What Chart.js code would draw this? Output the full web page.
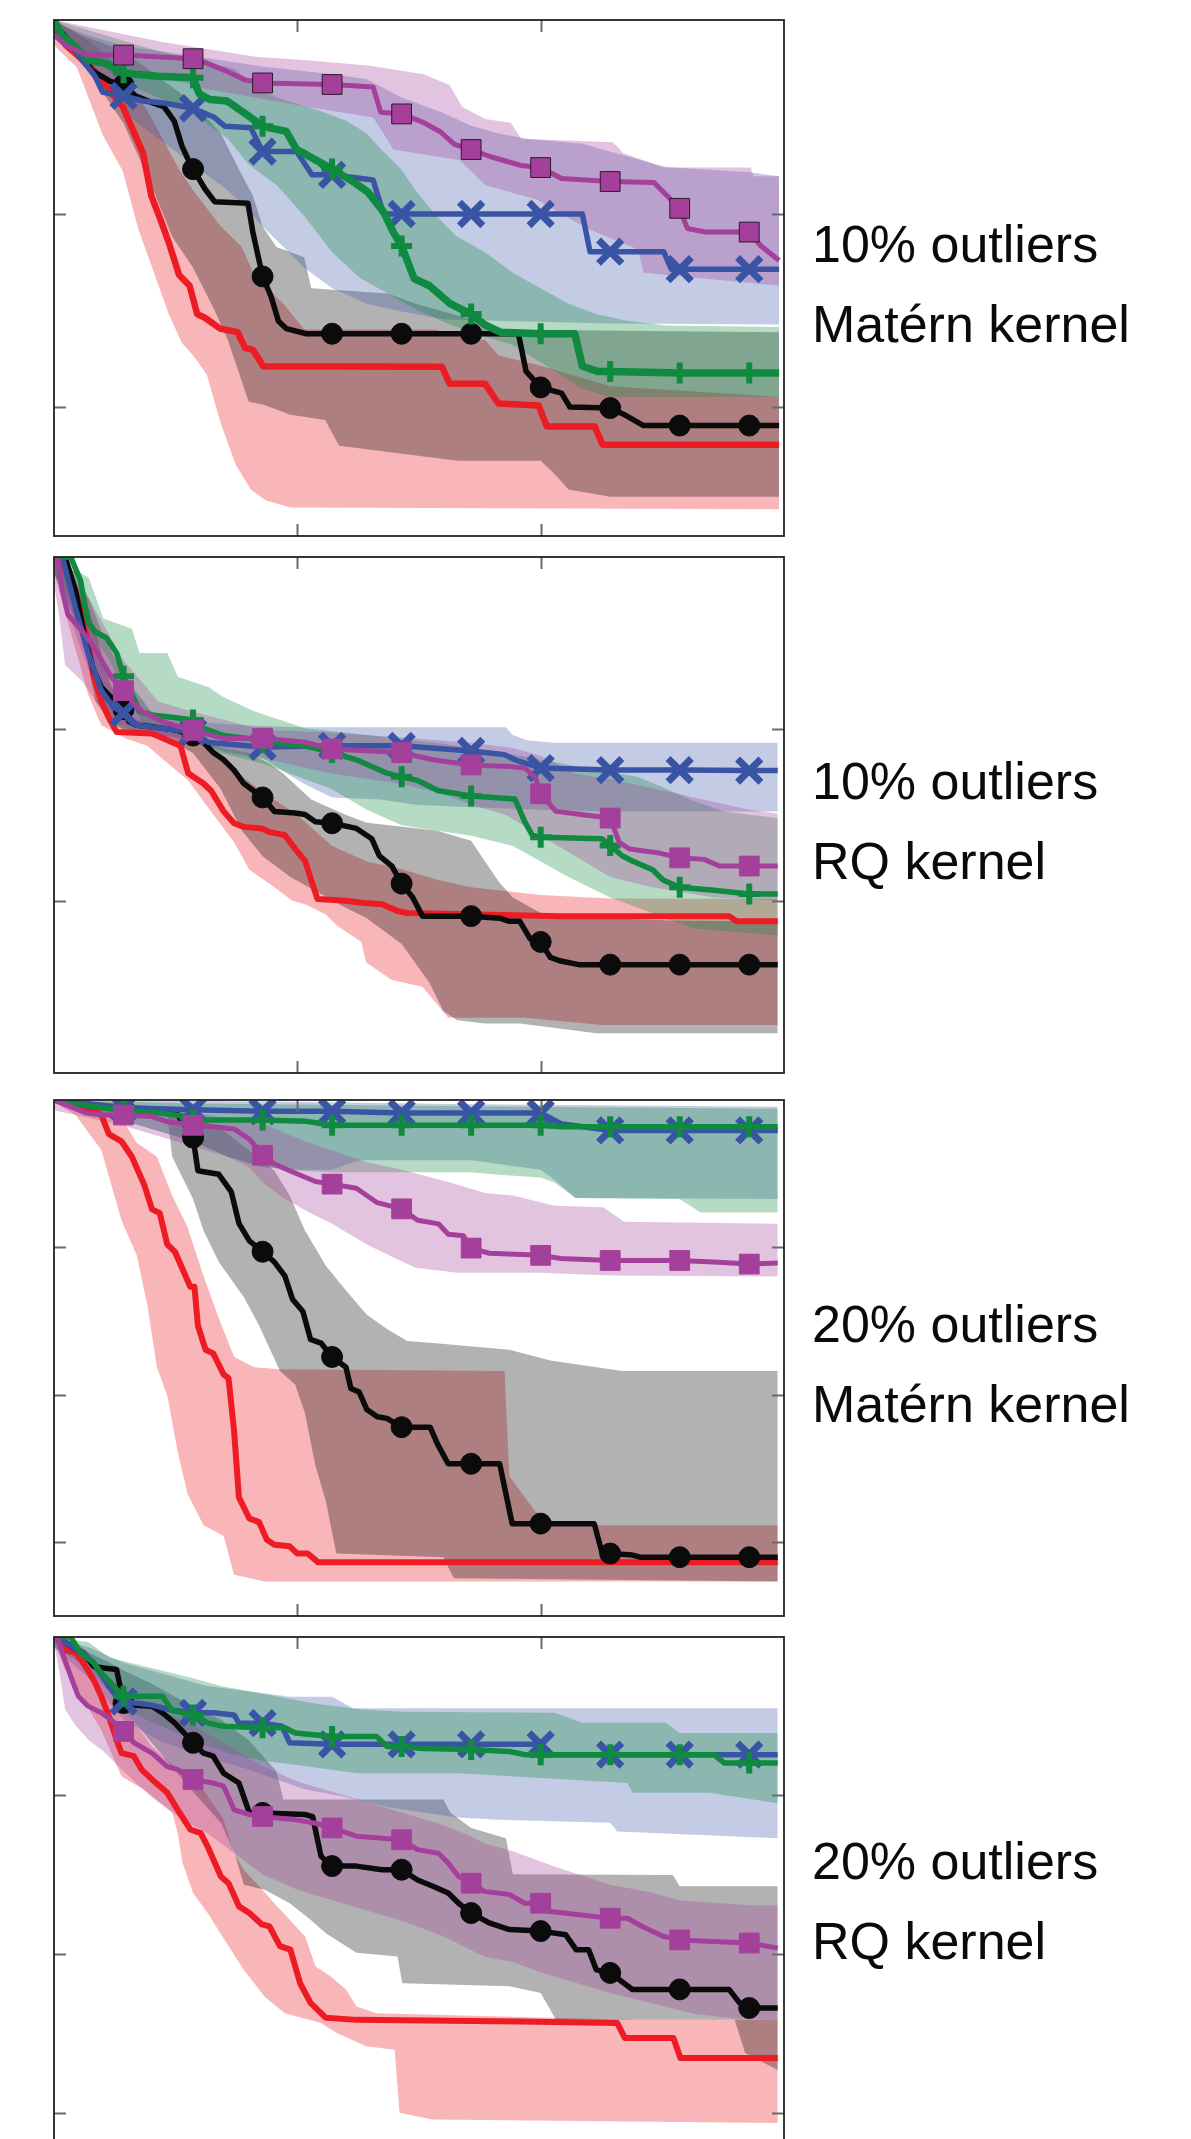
<!DOCTYPE html>
<html>
<head>
<meta charset="utf-8">
<script src="https://cdn.jsdelivr.net/npm/chart.js@4.4.1/dist/chart.umd.min.js"></script>
<style>
  body { margin: 0; background: #fff; width: 1191px; height: 2139px; position: relative; overflow: hidden; }
  canvas { position: absolute; left: 50px; }
  .label { position: absolute; left: 812px; font-family: "Liberation Sans", Arial, sans-serif; font-size: 52px; line-height: 80px; color: #0a0a0a; white-space: nowrap; }
</style>
</head>
<body>
<canvas id="c1" width="738" height="524" style="top:16px"></canvas>
<canvas id="c2" width="738" height="524" style="top:553px"></canvas>
<canvas id="c3" width="738" height="524" style="top:1096px"></canvas>
<canvas id="c4" width="738" height="524" style="top:1633px"></canvas>
<div class="label" style="top:204px">10% outliers<br>Matérn kernel</div>
<div class="label" style="top:741px">10% outliers<br>RQ kernel</div>
<div class="label" style="top:1284px">20% outliers<br>Matérn kernel</div>
<div class="label" style="top:1821px">20% outliers<br>RQ kernel</div>
<script>
// axes: x runs 0..105 (markers every 10), y is 0..100 from bottom of each panel
const xTicks = [35, 70];
const markerXs = [10, 20, 30, 40, 50, 60, 70, 80, 90, 100];
const p1YTicks = [25, 62.5];
const p2YTicks = [33.33, 66.67];
const p3YTicks = [14.29, 42.86, 71.43];
const p4YTicks = [7.7, 38.5, 69.3];

// ---- panel 1: 10% outliers, Matern ----
const p1RedLine = [[0,98],[1.8,95],[5.1,91.2],[7,88.1],[9.9,83.2],[12.8,74.2],[14,65.9],[15.4,61],[16.5,56.9],[18,50.6],[19.5,48.5],[20.6,43],[21.7,42.3],[23.9,40.2],[26.4,39.5],[27.5,36.4],[28.6,36.1],[30.1,32.9],[55.8,32.8],[56.9,29.5],[62,29.5],[63.9,25.7],[69.7,25.3],[70.9,21.2],[77.8,21.2],[78.9,17.7],[104.3,17.7]];
const p1RedHi = [[0,100],[5,96],[10,90],[14,81],[18,71],[20,67],[24,60],[27,56],[29,50],[33,45],[36,40],[55,40],[57,39],[62,38],[64,35],[70,33],[80,29],[104.3,27]];
const p1RedLo = [[0,95.1],[3.3,90.8],[7,77.7],[9.9,70.7],[12.1,59.6],[14.3,51.3],[16.5,43],[18.4,37.4],[20.2,34.7],[22,31.2],[23.9,22.2],[26.1,13.9],[28.3,9],[30.5,6.9],[34,5.5],[104.3,5.2]];
const p1BlackLine = [[0,99.2],[3.3,94.3],[5.5,90.2],[8.1,88.1],[10,87.4],[11.7,85.3],[14.3,83.9],[15.8,83.2],[17.3,80.4],[18.4,75.6],[19.1,73.5],[20,71.1],[21.7,67.3],[23.1,64.8],[27.9,64.5],[28.6,58.9],[30,50.3],[31.2,46.5],[32.3,41.6],[33.4,40.2],[36.3,39.2],[40,39.2],[50,39.2],[60,39.2],[66.8,39.2],[67.9,31.9],[70,28.8],[73,27.7],[74.2,25],[80,24.8],[81.9,23.6],[84.8,21.4],[90,21.4],[100,21.4],[104.3,21.4]];
const p1BlackHi = [[0,100],[4,97],[8,95],[12,92],[16,88],[20,84],[24,78],[27,70],[28.6,66],[30,60],[32,56],[36,54],[37,48],[48,47],[52,45],[60,42],[64,40],[104.3,39.5]];
const p1BlackLo = [[0,97],[5,90],[10,80],[14,68],[17,58],[20,52],[23,44],[25,38],[28,26],[30,25.5],[34,23.5],[39,22.5],[41,17.5],[58,14.6],[70,14.6],[72,12],[74,9],[80,7.6],[104.3,7.6]];
const p1BlueLine = [[0,98.8],[3.3,93.6],[5.9,89.1],[7,86],[10,85.3],[12.8,84.3],[15.8,83.9],[20,82.9],[23.1,81.1],[24.6,79.4],[28.3,79.1],[30,74.5],[34.9,74.5],[37.1,70],[40,70],[45.9,69],[47.4,62.4],[50,62.4],[60,62.4],[70,62.4],[76,62.4],[77.1,55.1],[80,55.1],[87.7,55.1],[88.8,51.7],[90,51.7],[100,51.7],[104.3,51.7]];
const p1BlueHi = [[0,99.5],[5,97],[10,95],[20,93],[30,91],[40,89.5],[45,88.5],[50,85],[56,82],[60,79.5],[64,78],[68,77],[76,76],[80,74.5],[88,71.5],[100,70.5],[104.3,69.7]];
const p1BlueLo = [[0,97],[5,90],[8,85],[12,80],[16,76],[20,72],[25,67],[28,63],[30,60],[33,56],[36,52],[40,48],[45,45],[50,43.5],[56,42],[60,41.8],[80,41.2],[104.3,41]];
const p1GreenLine = [[0,100],[1.1,97.1],[2.9,95],[5.1,92.2],[7.7,91.5],[10,89.8],[11.7,89.5],[15,89.1],[20,88.8],[20.9,85.7],[22.4,84.6],[24.9,84.3],[28.3,81.1],[30,79.4],[33.4,78.4],[34.9,74.9],[36.3,73.9],[40,71.1],[43,68.7],[45.2,66.6],[47.4,62.8],[48.8,58.9],[50,56.2],[51.8,49.9],[54,48.5],[56.9,45.1],[60,43],[62,40.9],[64.2,39.5],[70,39.2],[74.9,39.2],[76,32.9],[78.2,31.9],[80,31.9],[90,31.6],[100,31.6],[104.3,31.6]];
const p1GreenHi = [[0,100],[5,98],[10,96],[15,94],[20,92.5],[26,90.5],[28,88],[32,85],[38,82.5],[42,80.5],[45,78],[47,75],[50,71],[52,67],[55,62],[58,58],[62,55],[66,51],[70,48],[74,45],[78,43],[82,41.8],[88,40.8],[104.3,40.5]];
const p1GreenLo = [[0,98],[5,93],[10,88],[15,85],[20,82],[25,77],[28,72],[32,68],[36,62],[40,55],[44,50],[48,47],[52,44],[56,41.5],[60,39.5],[66,37],[72,32],[76,28.5],[80,27],[104.3,27]];
const p1MagLine = [[0,97.1],[1.8,95],[4.8,93.2],[10,93.2],[20,92.5],[21.7,91.8],[24.6,90.2],[27.5,88.4],[30,87.8],[40,87.5],[45.9,87],[47,82.1],[50,81.8],[53.2,80.1],[55.5,78.4],[57.6,75.9],[60,74.9],[62.8,73.5],[67.2,71.8],[70,71.4],[73,69.3],[80,68.7],[86.3,68.5],[88.5,65.5],[90,63.5],[91.1,59.6],[93.7,58.9],[100,58.9],[101.7,56.2],[104.3,53.4]];
const p1MagHi = [[0,100],[10.6,97.1],[15.8,95.7],[29,92.9],[36.3,92.2],[45.2,91.2],[53.2,89.5],[56.9,87.4],[58.7,83.2],[62,80.8],[65.7,80.1],[67.2,77],[80.4,76.3],[81.9,74.2],[87.7,71.4],[100.2,71.4],[100.6,69.7],[104.3,69.7]];
const p1MagLo = [[0,96.4],[10.6,90.8],[21.7,86.7],[36.3,83.2],[45.9,81.1],[47.4,78],[48.8,74.9],[58.4,72.8],[62,68],[69.4,65.2],[76.7,59.6],[84,55.5],[84.8,51],[104.3,48.5]];

// ---- panel 2: 10% outliers, RQ ----
const p2RedLine = [[0,100],[0.7,100],[3.1,93.5],[4.9,83.4],[5.7,76.8],[6.8,72.1],[7.9,68.8],[9,66.1],[14.1,65.8],[17,64.1],[18.2,63.4],[19.3,58.1],[21.5,56.1],[22.6,54.7],[24.4,50.7],[25.9,48.4],[27.3,47.7],[29.9,47.4],[31,46.7],[33.2,46.1],[34.7,43.4],[36.1,41.1],[37.9,33.7],[42,33.4],[44.2,33],[47.2,32.7],[49.4,31.4],[50.8,31],[72.9,30.4],[97.1,30.4],[98.2,29.4],[104.1,29.4]];
const p2RedHi = [[0,100],[5,90],[8,76],[10,69],[15,67.5],[18,66.5],[22,63],[27,57.5],[30,54.5],[35,50],[40,44],[45,41],[50,39.5],[55,37.5],[60,36],[70,34.5],[80,33.8],[104.1,33.7]];
const p2RedLo = [[0,97],[4.9,73.4],[6.8,67.4],[10.4,64.8],[13.4,63.4],[16.3,60.1],[19.3,56.7],[22.9,50.1],[25.9,44.7],[28.1,39.4],[31,36.7],[34.3,33.4],[36.1,32.7],[39.1,30.7],[40.6,28.7],[44.2,25.4],[44.9,21.4],[48.6,18],[53,16.7],[56.7,10.7],[67.7,10.7],[78.8,9.3],[104.1,9.3]];
const p2BlackLine = [[0,100],[1.6,100],[3.1,93.5],[4.6,83.4],[5.7,78.1],[6.8,74.8],[8.2,72.8],[10,70.5],[10.8,68.1],[11.9,67.4],[14.1,67.1],[17.8,66.4],[20,65.4],[21.5,64.1],[22.9,62.1],[24.4,60.7],[25.9,58.7],[27.3,56.1],[30,53.4],[31.7,50.7],[34.7,50.4],[36.1,50.1],[37.6,48.7],[40,48.4],[43.5,47.4],[45.7,45.4],[46.8,42.1],[48.6,40.1],[50,36.7],[51.6,34],[53,30.4],[60,30.4],[64.1,30],[65.5,29.4],[67,29.4],[68.5,26],[70,25.4],[71.4,22.4],[72.9,21.7],[75.5,21],[80,21],[90,21],[100,21],[104.1,21]];
const p2BlackHi = [[0,100],[3,97],[5,92],[7,85],[10,77],[14,70],[18,67],[24,63],[28,62],[31,60],[33,58],[37,53],[42,50],[45,48.5],[55,47],[60,45],[62,41],[64,37],[66,34],[70,31],[80,30],[90,29.5],[104.1,29.4]];
const p2BlackLo = [[0,97],[4,85],[6,72],[8,68],[10,66.5],[16,65],[20,62],[24,55],[27,47],[30,42],[34,38],[38,35],[42,32],[45,30],[50,25],[54,17.5],[56,12],[58,10.2],[62,9.6],[67,9.6],[78,7.7],[104.1,7.7]];
const p2BlueLine = [[0,100],[1.2,100],[3.1,90.1],[4.9,81.4],[6.8,74.1],[8.6,70.8],[10,69.8],[11.9,67.4],[20,66.1],[22.2,64.1],[24.4,63.8],[30,63.2],[40,63.4],[50,63.4],[60,62.4],[64.8,61.7],[66.3,60.7],[70,59.1],[80,58.7],[90,58.7],[100,58.6],[104.1,58.6]];
const p2BlueHi = [[0,100],[5,90],[8,75],[12,70],[20,68],[30,67.2],[36,67],[65,67],[66,65.5],[68,64.5],[72,64],[104.1,64]];
const p2BlueLo = [[0,97],[5,78],[8,68],[12,66],[18,65],[25,62],[30,61],[33,58.5],[36,56],[40,53.4],[47,53],[52,52],[60,51.5],[70,51],[80,50.7],[104.1,50.7]];
const p2GreenLine = [[0,100],[2.4,100],[3.8,95.5],[4.9,87.4],[6,85.4],[7.5,84.4],[9,81.4],[10,76.9],[11.2,73.4],[12.3,70.1],[14.1,69.4],[17.8,68.8],[20,68.4],[21.5,66.8],[24.4,65.4],[28.1,64.8],[30,64.1],[33.2,63.8],[36.1,63.4],[40,62.1],[43.5,60.7],[47.9,58.1],[50,57.4],[52.3,56.7],[55.3,54.7],[60,53.7],[66.3,53.1],[67.7,48.7],[68.8,46.1],[70,45.7],[78.8,45.4],[80,44.1],[81.7,42.1],[83.2,41.1],[86.1,39.4],[87.6,37.4],[90,36],[94.9,35.4],[100,34.7],[104.1,34.7]];
const p2GreenHi = [[0,100],[5,96],[7.1,88.1],[11.2,86.1],[12.3,81.4],[16.3,81.4],[17.8,76.8],[22.2,74.8],[24.4,72.8],[28.8,70.1],[31.7,68.8],[36.1,66.8],[45,65.5],[55,64],[65,62],[75,59.5],[83.9,57.4],[87.6,55.4],[92,52.7],[96.4,50.7],[104.1,49.4]];
const p2GreenLo = [[0,97],[5,86],[8,80],[10,74],[13,67.5],[18,65.5],[24,62],[30,60],[36,57],[40,55],[45,51],[50,48],[55,47],[60,46],[66,44],[70,41],[74,38],[80,34],[86,31],[92,28],[104.1,26.7]];
const p2MagLine = [[0,100],[0.5,100],[1.2,93.5],[2,88.8],[3.8,86.1],[5.3,83.4],[6.8,80.1],[8.2,76.8],[10,74.1],[11.2,72.1],[12.6,70.1],[15.6,68.1],[20,66.4],[24.4,64.8],[30,64.9],[36.1,64.1],[40,62.8],[50,62.1],[54.5,60.7],[60,59.7],[65.5,59.4],[67.7,59.1],[69.2,57.4],[70,54.1],[72.2,50.7],[75.8,50.1],[80,49.4],[81.3,44.7],[82.8,43.4],[86.8,42.7],[90,41.7],[93.5,41.4],[95.7,40.1],[100,40.1],[104.1,40.1]];
const p2MagHi = [[0,100],[5,92],[10,80],[15,72],[20,70],[30,66.5],[40,66],[50,65],[60,64],[66,63],[70,61.5],[75,58],[80,57],[90,54],[100,51],[104.1,50.3]];
const p2MagLo = [[0,95],[0.8,88],[1.6,79],[4,76],[6,72],[9,68],[14,66],[20,64],[30,61],[40,58],[50,56],[56,54],[60,52],[65,50],[70,46],[75,42],[80,38],[86,36],[95,34],[104.1,33.4]];

// ---- panel 3: 20% outliers, Matern ----
const p3RedLine = [[0,100],[1.6,99.7],[3.1,98.8],[5.7,98.1],[6.8,97.1],[7.9,93.4],[9.7,92],[11.2,89],[13,83.5],[14.1,78.8],[15.2,78.1],[16.3,72],[17.4,70.6],[18.5,67.2],[19.6,63.8],[20.2,63.8],[20.7,56.3],[21.8,51.6],[22.9,50.9],[24.4,46.8],[25.1,46.1],[25.9,35.9],[26.6,23],[28.1,18.9],[29.5,18.2],[30.6,14.8],[31.7,13.8],[33.9,13.5],[35,12.1],[36.5,12.1],[38,10.4],[104.1,10.4]];
const p3RedHi = [[0,100],[6.8,99.2],[9.7,96.5],[11.9,91.7],[14.8,89],[17,81.5],[19.2,75.4],[21.5,65.9],[23.7,57.7],[25.9,50.2],[28.8,48.2],[32.5,47.8],[64.8,47.5],[65.5,27.1],[69.2,20.3],[72.9,17.6],[104.1,17.6]];
const p3RedLo = [[0,99.5],[3.1,97.1],[6.8,90.3],[9.7,76.7],[11.9,69.9],[13.4,60.4],[14.8,48.2],[16.3,42.7],[17.8,31.8],[19.2,23.7],[21.5,17.6],[24.4,15.5],[25.9,8],[30.3,6.7],[104.1,6.7]];
const p3BlackLine = [[0,100],[3.1,99.2],[10,98.3],[16.3,97.8],[17.8,97.1],[20,92.7],[20.7,86.3],[23.7,85.6],[25.5,82.2],[26.6,76.1],[28.1,72.7],[30,70.6],[31.7,68.6],[33.2,65.9],[34.3,61.4],[35.8,59],[36.9,53.6],[38.4,52.9],[40,50.2],[42,48.2],[42.7,44.1],[43.9,43.4],[45,40],[46.5,38.6],[47.9,38.3],[50,36.6],[54.1,36.6],[55.2,33.2],[56.7,29.5],[60,29.5],[64.1,29.5],[65.9,17.9],[70,17.9],[77.7,17.9],[78.8,12.4],[80,12.1],[83.2,11.8],[84.3,11.4],[90,11.4],[100,11.4],[104.1,11.4]];
const p3BlackHi = [[0,100],[10,99.3],[16,98.5],[20,97],[24,94.5],[26.6,91.7],[31.7,86.3],[33.9,81.5],[36.1,74.7],[39.1,67.9],[42,63.1],[45,58.4],[47.9,55.6],[50.8,53.3],[54.5,52.9],[65.5,51.6],[71.4,49.5],[81.7,47.5],[104.1,47.5]];
const p3BlackLo = [[0,99.5],[10,98],[16.3,97.1],[17,89],[20,80.8],[21.5,74.7],[23.7,68.6],[27.3,61.8],[29.5,56.3],[32.5,47.5],[34.7,44.8],[36.1,39.3],[37.6,29.1],[39.1,22.3],[40.6,12.1],[56,11.4],[57.5,7.3],[104.1,6.7]];
const p3BlueLine = [[0,100],[6.8,99],[10,98.5],[20,98.1],[30,97.8],[40,97.8],[50,97.5],[60,97.5],[70,97.5],[72.9,95.4],[80,94.1],[90,94.1],[100,94.1],[104.1,94.1]];
const p3BlueHi = [[0,100],[30,99.7],[60,99.2],[104.1,98.7]];
const p3BlueLo = [[0,99.5],[5,98],[10,96],[15,94],[20,92],[25,89],[30,87],[35,86.5],[40,86.5],[44,88.3],[60,88.3],[70,86.5],[72,84.5],[75,81],[104.1,80.8]];
const p3GreenLine = [[0,100],[3.1,99.2],[6.8,98.5],[10,98],[15,97.5],[18,97],[20,96.1],[30,96.1],[36.1,95.9],[40,95.1],[50,95.1],[60,95.1],[70,95.1],[72.9,94.8],[80,94.8],[90,94.8],[100,94.8],[104.1,94.8]];
const p3GreenHi = [[0,100],[20,99.3],[60,98.8],[104.1,98.3]];
const p3GreenLo = [[0,99.5],[5,98],[10,96],[15,94],[20,92],[25,89],[30,87],[35,86.3],[40,86],[60,86],[64,85.5],[70,85],[72,84],[75,81],[90,80.8],[93,78.2],[104.1,78.2]];
const p3MagLine = [[0,100],[4.6,97.5],[6.8,97.1],[10,97.1],[14.1,96.8],[16.3,95.8],[20,95.1],[22.9,94.8],[25.9,94.4],[28.1,92.4],[30,89.3],[31.7,87.6],[33.9,86.3],[37.6,84.2],[40,83.7],[43.5,82.9],[46.5,80.1],[50,78.9],[52.3,76.7],[55.3,76],[56.7,74],[58.9,73.7],[60,71.3],[62.6,70.3],[70,69.9],[72.9,69.3],[80,68.9],[90,68.9],[94.9,68.6],[100,68.2],[104.1,68.4]];
const p3MagHi = [[0,100],[10,98.5],[20,97.5],[30,95.5],[36,92],[45,88],[50,86.5],[57,84],[62,82],[66,81.5],[72,79.5],[79,79.2],[82,76.4],[104.1,76]];
const p3MagLo = [[0,98],[5,96.5],[10,95],[15,93],[20,91],[25,89],[28,87],[30,84],[33,81],[37,78],[40,76],[45,72],[48,70],[52,67.5],[58,66.5],[70,66.5],[80,66],[104.1,65.8]];

// ---- panel 4: 20% outliers, RQ ----
const p4RedLine = [[0,100],[0.5,100],[1.6,97.5],[3.1,96.9],[4.2,95],[5.7,91.7],[6.8,88.5],[7.9,84.6],[9,80.1],[9.7,77.5],[11.5,76.9],[12.6,74.3],[14.1,72.4],[16.3,69.8],[17.8,66.5],[19.6,62.7],[21.1,62],[22.1,59.4],[24,53.6],[25.1,52.3],[26.6,47.8],[28.1,46.5],[29.9,44.3],[31,43.9],[32.5,40.1],[34,39.4],[35.4,32.9],[36.9,29.1],[39.1,26.2],[43.5,25.8],[67,25.5],[81,25.2],[82.1,22.3],[89.1,22.3],[90.1,18.4],[104.1,18.4]];
const p4RedHi = [[0,100],[1.6,99.5],[6.8,93.7],[11.2,84],[14.1,78.8],[17.8,74.3],[21.5,70.4],[24.4,64.6],[25.9,58.1],[27.3,54.9],[29.5,51.7],[31.7,48.4],[33.9,45.2],[36.1,42],[37.6,36.2],[39.8,34.2],[42,31.7],[43.5,28.4],[46.4,27.1],[71.4,26.2],[83.9,25.8],[104.1,25.8]];
const p4RedLo = [[0,99],[1.6,93.7],[6.8,82],[9.7,73],[13.4,70],[17,66],[17.8,62],[18.5,56.2],[20,50.4],[22.1,46.5],[24.2,42],[27.3,35.5],[30.3,30.3],[33.2,27.1],[38.4,25.2],[40.6,23.3],[44.9,20.7],[49,20],[49.7,7.8],[54.4,6.5],[104.1,5.8]];
const p4BlackLine = [[0,100],[0.8,100],[2.4,98.2],[4.2,96.9],[5.7,94.3],[7.1,94],[9,93.7],[10,87.2],[11.2,86.8],[14.1,86.6],[15.6,85.3],[17.4,83.3],[20,79.5],[21.5,77.5],[22.9,76.9],[24.4,73.6],[26.6,71.7],[28.1,65.9],[30,65.9],[36.1,65.6],[37.2,65.2],[38.4,57.5],[40,55.6],[43.5,55.6],[47.2,54.9],[50,54.9],[52.3,52.9],[54.5,51.7],[56.7,50.4],[58.2,48.4],[60,46.5],[62.6,44.6],[65.5,43.3],[70,43],[73.6,42.3],[75.1,39.4],[76.9,39.4],[78,35.5],[80,34.9],[83.2,31.7],[90,31.7],[97.1,31.7],[98.6,29.1],[100,28.1],[104.1,28.1]];
const p4BlackHi = [[0,100],[3,99],[5,97],[8,95],[10,93.5],[14,91],[18,88],[20,86.5],[24,84],[28,80],[30,77],[32,74],[33,68.5],[56,68.5],[57,66],[60,63],[65,61],[66,54],[89,53.9],[90,51.7],[104.1,51.7]];
const p4BlackLo = [[0,99],[5,95],[10,86],[15,78],[20,70],[24,64],[26,58],[27.3,52],[30.3,51],[33.9,48.4],[36.9,45.2],[39.1,42.6],[43.5,38.8],[49.4,38.1],[50.1,32.9],[65.5,32.3],[70,31],[72.2,25.8],[97.9,25.8],[99.4,19.4],[104.1,16.1]];
const p4BlueLine = [[0,100],[0.5,100],[2.4,98.2],[4.2,96.9],[5.7,95],[7.9,90.4],[10,87.5],[14.1,86.8],[17,85.8],[20,85.3],[22.9,85.3],[25.9,84.9],[26.6,83.3],[30,83.3],[32.8,82.7],[33.9,79.5],[40,79.2],[50,79.2],[60,79.2],[70,79.2],[71.1,77.2],[80,77.2],[90,77.2],[100,77.2],[104.1,77.2]];
const p4BlueHi = [[0,100],[5,98],[10,95],[14,93.5],[18,92],[22,90.5],[28,89.5],[34,88.4],[40,88.4],[43,86.2],[104.1,86.2]];
const p4BlueLo = [[0,98],[5,92],[10,84],[15,80],[20,77.5],[28,74.3],[36,70.5],[42,69],[48,67],[58,65],[64,64.6],[80,64],[81,62.3],[104.1,61]];
const p4GreenLine = [[0,100],[2.4,100],[3.8,96.9],[5.7,95],[6.8,93],[10,88.5],[15.6,88.5],[17,85.8],[20,84.9],[22.2,83.3],[24.4,82.7],[30,82.4],[33.2,82.4],[34.7,81.4],[40,80.7],[46.4,80.7],[47.9,78.8],[50,78.8],[53,78.4],[60,78.2],[65.5,77.8],[67.7,77.2],[70,77.2],[80,77.2],[90,77.2],[94.9,77.2],[96.4,75.6],[100,75.6],[104.1,75.6]];
const p4GreenHi = [[0,100],[5,99],[8,96],[14,94],[20,92],[24,90.5],[30,89],[34,88],[38,87],[44,86],[50,85.5],[72,85.3],[76,83.4],[88,83.4],[90,81.4],[104.1,81.4]];
const p4GreenLo = [[0,98],[5,94],[10,86],[15,83],[20,80],[25,77.5],[30,76],[36,75],[43.5,73.6],[58.2,73.6],[82.5,71.7],[83.2,69.8],[94.2,69.8],[104.1,67.8]];
const p4MagLine = [[0,100],[0.5,100],[1.2,96.9],[2.4,92.4],[3.5,88.5],[4.9,86.6],[6.8,85.3],[8.2,84],[10,81.7],[11.5,79.5],[14.1,77.5],[16.3,74.9],[17.8,74.3],[20,72.4],[22.9,71.7],[24.4,71.1],[25.9,66.5],[28.1,65.6],[30,65.2],[34.7,64.6],[37.6,63.9],[40,63],[43.5,61.4],[50,60.7],[52.3,58.8],[55.3,58.1],[56.7,56.2],[58.2,53.6],[60,52.3],[61.9,50.7],[65.5,50.1],[67.7,48.4],[70,48.4],[71.4,46.8],[80,45.5],[82.5,45.5],[84.6,43.9],[87.6,42],[90,41.3],[94.9,41],[100,40.7],[104.1,39.7]];
const p4MagHi = [[0,100],[5,95],[10,90],[15,86],[20,83],[25,79],[30,75],[35,72],[40,70],[45,68],[50,66],[55,64],[57,63],[60,61.4],[62,60],[66,58.5],[72,55.5],[80,52],[86,50.5],[90,49],[100,48],[104.1,48]];
const p4MagLo = [[0,99],[0.8,93],[1.6,86],[3,83],[5,80],[7,78],[10,74],[14,69],[18,65],[22,62],[26,58],[30,54],[35,51],[40,49],[45,47],[50,45],[56,42],[62,38],[66,37],[70,35],[75,33],[80,31],[86,29],[92,27],[98,26],[104.1,25.8]];

// series look
const styles = {
    red:     { line: "#ed1c24", band: "rgba(237, 28, 36, 0.32)", width: 6, marker: false },
    black:   { line: "#0b0b0b", band: "rgba(0, 0, 0, 0.3)", width: 5.5, marker: "circle", r: 10.5 },
    blue:    { line: "#3a54a5", band: "rgba(58, 84, 165, 0.3)", width: 5.5, marker: "crossRot", r: 16.5, mw: 7 },
    green:   { line: "#0f8a40", band: "rgba(16, 138, 64, 0.31)", width: 5.5, marker: "cross", r: 10.5, mw: 6 },
    magenta: { line: "#a4409b", band: "rgba(164, 64, 155, 0.31)", width: 5, marker: "rect", r: 14 }
};

// frame with inward ticks on all four sides
const framePlugin = {
    id: "frame",
    afterDraw(chart, args, opts) {
        const { ctx, chartArea: a, scales } = chart;
        const len = 12;
        ctx.save();
        ctx.strokeStyle = "#6a6a6a";
        ctx.lineWidth = 2;
        ctx.beginPath();
        xTicks.forEach(v => {
            const px = Math.round(scales.x.getPixelForValue(v)) + 0.5;
            ctx.moveTo(px, a.top); ctx.lineTo(px, a.top + len);
            ctx.moveTo(px, a.bottom); ctx.lineTo(px, a.bottom - len);
        });
        (opts.yTicks || []).forEach(v => {
            const py = Math.round(scales.y.getPixelForValue(v)) + 0.5;
            ctx.moveTo(a.left, py); ctx.lineTo(a.left + len, py);
            ctx.moveTo(a.right, py); ctx.lineTo(a.right - len, py);
        });
        ctx.stroke();
        ctx.strokeStyle = "#222";
        ctx.lineWidth = 1.8;
        ctx.strokeRect(a.left, a.top, a.right - a.left, a.bottom - a.top);
        ctx.restore();
    }
};

const toPoints = arr => arr.map(([x, y]) => ({ x, y }));
const isMarker = raw => raw && markerXs.includes(raw.x);

function buildPanel(id, yTicks, series, squareEdge) {
    const datasets = [];
    // bands first in the list, drawn under the lines through `order`
    series.forEach((s, i) => {
        const st = styles[s.key];
        datasets.push({ data: toPoints(s.hi), borderWidth: 0, pointRadius: 0, fill: "+1",
            backgroundColor: st.band, order: 20 - i });
        datasets.push({ data: toPoints(s.lo), borderWidth: 0, pointRadius: 0, fill: false, order: 20 - i });
    });
    series.forEach((s, i) => {
        const st = styles[s.key];
        const isCross = st.marker === "cross" || st.marker === "crossRot";
        datasets.push({
            data: toPoints(s.line),
            borderColor: st.line,
            borderWidth: s.width || st.width,
            fill: false,
            order: 10 - i,
            pointStyle: st.marker || "circle",
            pointRadius: c => (st.marker && isMarker(c.raw)) ? st.r : 0,
            pointBackgroundColor: st.line,
            pointBorderColor: (st.marker === "rect" && squareEdge) ? squareEdge : st.line,
            pointBorderWidth: isCross ? st.mw : 1
        });
    });

    new Chart(document.getElementById(id), {
        type: "line",
        data: { datasets },
        options: {
            responsive: false,
            animation: false,
            devicePixelRatio: 1,
            events: [],
            layout: { padding: 4 },
            elements: { line: { tension: 0, borderJoinStyle: "round", borderCapStyle: "butt" } },
            scales: {
                x: { type: "linear", min: 0, max: 105, display: false },
                y: { type: "linear", min: 0, max: 100, display: false }
            },
            plugins: {
                legend: { display: false },
                tooltip: { enabled: false },
                frame: { yTicks }
            }
        },
        plugins: [framePlugin]
    });
}

buildPanel("c1", p1YTicks, [
    { key: "red", line: p1RedLine, hi: p1RedHi, lo: p1RedLo, width: 6.5 },
    { key: "black", line: p1BlackLine, hi: p1BlackHi, lo: p1BlackLo },
    { key: "blue", line: p1BlueLine, hi: p1BlueHi, lo: p1BlueLo },
    { key: "green", line: p1GreenLine, hi: p1GreenHi, lo: p1GreenLo, width: 7.5 },
    { key: "magenta", line: p1MagLine, hi: p1MagHi, lo: p1MagLo }
], "#2a1a2a");

buildPanel("c2", p2YTicks, [
    { key: "red", line: p2RedLine, hi: p2RedHi, lo: p2RedLo },
    { key: "black", line: p2BlackLine, hi: p2BlackHi, lo: p2BlackLo },
    { key: "blue", line: p2BlueLine, hi: p2BlueHi, lo: p2BlueLo },
    { key: "green", line: p2GreenLine, hi: p2GreenHi, lo: p2GreenLo },
    { key: "magenta", line: p2MagLine, hi: p2MagHi, lo: p2MagLo }
]);

buildPanel("c3", p3YTicks, [
    { key: "red", line: p3RedLine, hi: p3RedHi, lo: p3RedLo },
    { key: "black", line: p3BlackLine, hi: p3BlackHi, lo: p3BlackLo },
    { key: "blue", line: p3BlueLine, hi: p3BlueHi, lo: p3BlueLo },
    { key: "green", line: p3GreenLine, hi: p3GreenHi, lo: p3GreenLo },
    { key: "magenta", line: p3MagLine, hi: p3MagHi, lo: p3MagLo }
]);

buildPanel("c4", p4YTicks, [
    { key: "red", line: p4RedLine, hi: p4RedHi, lo: p4RedLo },
    { key: "black", line: p4BlackLine, hi: p4BlackHi, lo: p4BlackLo },
    { key: "blue", line: p4BlueLine, hi: p4BlueHi, lo: p4BlueLo },
    { key: "green", line: p4GreenLine, hi: p4GreenHi, lo: p4GreenLo },
    { key: "magenta", line: p4MagLine, hi: p4MagHi, lo: p4MagLo }
]);
</script>
</body>
</html>
